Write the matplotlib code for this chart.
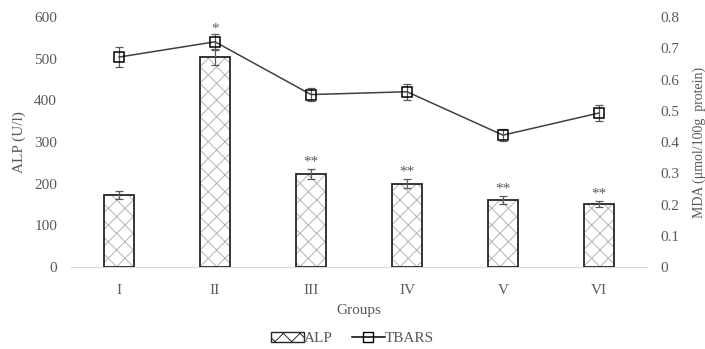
import numpy as np
import matplotlib.pyplot as plt
from matplotlib.patches import Patch
from matplotlib.lines import Line2D

plt.rcParams['font.family'] = ['Liberation Serif', 'DejaVu Serif']
plt.rcParams['hatch.linewidth'] = 0.7

groups = ['I', 'II', 'III', 'IV', 'V', 'VI']
alp = [173, 504, 224, 200, 161, 151]
alp_err = [9, 20, 12, 11, 9, 8]
alp_sig = ['', '', '**', '**', '**', '**']
tbars = [0.672, 0.721, 0.552, 0.561, 0.422, 0.493]
tbars_err = [0.033, 0.025, 0.022, 0.025, 0.020, 0.025]
tbars_sig = ['', '*', '', '', '', '']

grey = '#595959'
x = np.arange(len(groups))

fig = plt.figure(figsize=(7.05, 3.49), dpi=100)
ax = fig.add_axes([0.1007, 0.235, 0.8170, 0.716])
ax2 = ax.twinx()

# bars: hatch in light grey, outline in black
ax.bar(x, alp, width=0.31, color='white', edgecolor='#b3b3b3', hatch='xx', linewidth=0, zorder=2)
ax.bar(x, alp, width=0.31, color='none', edgecolor='#262626', linewidth=1.3, zorder=3)
ax.errorbar(x, alp, yerr=alp_err, fmt='none', ecolor=grey, elinewidth=0.9, capsize=3, capthick=0.9, zorder=4)
for xi, v, e, s in zip(x, alp, alp_err, alp_sig):
    if s:
        ax.text(xi, v + e + 1, s, ha='center', va='bottom', fontsize=11, color=grey)

ax2.errorbar(x, tbars, yerr=tbars_err, fmt='none', ecolor=grey, elinewidth=0.9, capsize=3, capthick=0.9, zorder=4)
ax2.plot(x, tbars, color='#404040', linewidth=1.1, marker='s', markersize=7,
         markerfacecolor='none', markeredgecolor='black', markeredgewidth=1.1, zorder=5)
for xi, v, e, s in zip(x, tbars, tbars_err, tbars_sig):
    if s:
        ax2.text(xi, v + e - 0.005, s, ha='center', va='bottom', fontsize=11, color=grey)

ax.set_xlim(-0.5, len(groups) - 0.5)
ax.set_ylim(0, 600)
ax2.set_ylim(0, 0.8)
ax.set_yticks(range(0, 601, 100))
ax2.set_yticks(np.arange(0, 0.81, 0.1))
ax2.set_yticklabels(['0', '0.1', '0.2', '0.3', '0.4', '0.5', '0.6', '0.7', '0.8'])
ax.set_xticks(x)
ax.set_xticklabels(groups)

for a in (ax, ax2):
    for sp in a.spines.values():
        sp.set_visible(False)
    a.tick_params(length=0, labelsize=11, labelcolor=grey)
ax.spines['bottom'].set_visible(True)
ax.spines['bottom'].set_color('#d9d9d9')
ax.tick_params(axis='y', pad=10)
ax2.tick_params(axis='y', pad=10)
ax.tick_params(axis='x', pad=12)

ax.set_ylabel('ALP (U/l)', fontsize=11, color=grey, labelpad=6)
ax2.set_ylabel('MDA (μmol/100g  protein)', fontsize=10, color=grey, labelpad=9)
ax.set_xlabel('Groups', fontsize=11, color=grey, labelpad=5)

handles = [Patch(facecolor='white', edgecolor='#262626', hatch='xx', linewidth=1.0, label='ALP'),
           Line2D([0], [0], color='black', linewidth=1.1, marker='s', markersize=7,
                  markerfacecolor='none', label='TBARS')]
leg = fig.legend(handles=handles, loc='center', bbox_to_anchor=(0.5, 0.03), ncol=2, frameon=False,
                 fontsize=11, handlelength=2.2, handleheight=0.6, handletextpad=0.0, columnspacing=1.2)
for t in leg.get_texts():
    t.set_color(grey)

fig.savefig('out.png', dpi=100)
